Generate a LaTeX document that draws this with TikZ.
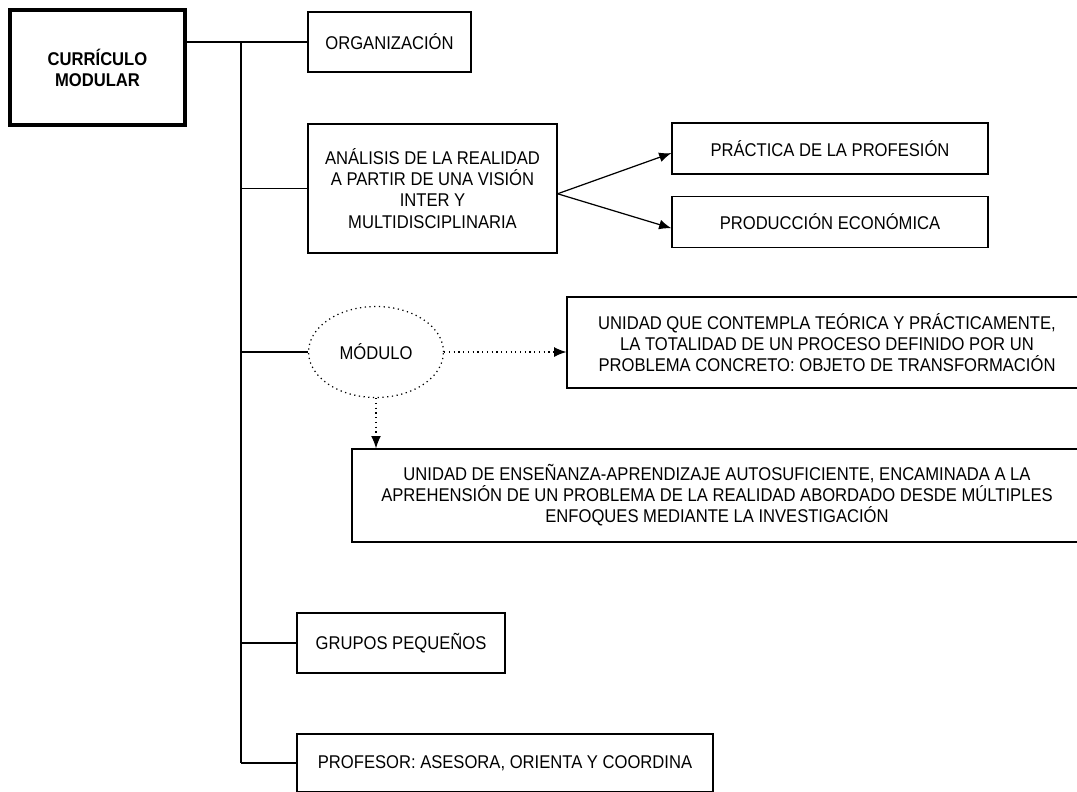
\documentclass[tikz,border=0pt]{standalone}
\usepackage{fontspec}
\setmainfont[FakeStretch=0.9]{Liberation Sans}
\usetikzlibrary{arrows.meta}
\usetikzlibrary{positioning}
\usetikzlibrary{shapes}
\usetikzlibrary{calc}

\begin{document}
\begin{tikzpicture}[x=0.02cm, y=-0.02cm, >={Latex[length=7pt,width=5.6pt]}, line width=0.7pt,
    every node/.style={font=\fontsize{10.5}{12}\selectfont, align=center, inner sep=0pt},
    box/.style={draw, rectangle},
    thickbox/.style={box, line width=2.8pt, font=\fontsize{10.5}{12}\selectfont\bfseries},
    oval/.style={draw, ellipse, dotted}]
  \clip (0,0) rectangle (1077,791);
  \node[thickbox, minimum width=3.5cm, minimum height=2.3cm]  (curr) at (97.5,67.5)  {CURRÍCULO\\MODULAR};
  \node[box, minimum width=3.26cm, minimum height=1.2cm]      (org)  at (389.5,42)   {ORGANIZACIÓN};
  \node[box, minimum width=4.98cm, minimum height=2.58cm]     (ana)  at (432.5,188.5)
    {ANÁLISIS DE LA REALIDAD\\A PARTIR DE UNA VISIÓN\\INTER Y\\MULTIDISCIPLINARIA};
  \node[box, minimum width=6.32cm, minimum height=1.02cm]     (prac) at (830,148.5)  {PRÁCTICA DE LA PROFESIÓN};
  \node[box, minimum width=6.32cm, minimum height=1.02cm]     (prod) [below=0.42cm of prac] {PRODUCCIÓN ECONÓMICA};
  \node[oval, minimum width=2.7cm, minimum height=1.82cm]     (mod)  at (376,352)    {MÓDULO};
  \node[box, minimum width=10.4cm, minimum height=1.82cm]     (uq)   at (827,342.5)
    {UNIDAD QUE CONTEMPLA TEÓRICA Y PRÁCTICAMENTE,\\LA TOTALIDAD DE UN PROCESO DEFINIDO POR UN\\PROBLEMA CONCRETO: OBJETO DE TRANSFORMACIÓN};
  \node[box, minimum width=14.6cm, minimum height=1.86cm]     (ens)  at (717,495.5)
    {UNIDAD DE ENSEÑANZA-APRENDIZAJE AUTOSUFICIENTE, ENCAMINADA A LA\\APREHENSIÓN DE UN PROBLEMA DE LA REALIDAD ABORDADO DESDE MÚLTIPLES\\ENFOQUES MEDIANTE LA INVESTIGACIÓN};
  \node[box, minimum width=4.16cm, minimum height=1.2cm]      (grp)  at (401,643)    {GRUPOS PEQUEÑOS};
  \node[box, minimum width=8.32cm, minimum height=1.16cm]     (prof) at (505,763)    {PROFESOR: ASESORA, ORIENTA Y COORDINA};
  \coordinate (top) at (241,42);
  % tronco y ramas
  \path (org.west -| curr.east) edge (org.west)
        (top)                   edge (top |- prof.west)
        (ana.west -| top)       edge (ana.west)
        (mod.west -| top)       edge (mod.west)
        (grp.west -| top)       edge (grp.west)
        (prof.west -| top)      edge (prof.west);
  \path[->]
    ([yshift=-3pt]ana.east) edge ([yshift=-2.6pt]prac.west)
                            edge ([yshift=-3.7pt]prod.west);
  \path[->, dotted]
    (mod.east)  edge (mod.east -| uq.west)
    (mod.south) edge (mod.south |- ens.north);
\end{tikzpicture}
\end{document}
